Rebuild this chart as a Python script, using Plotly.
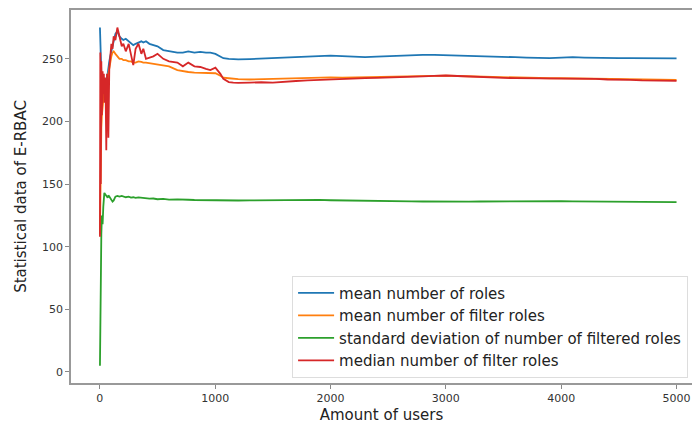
import plotly.graph_objects as go

users = [1, 4, 8, 13, 18, 24, 30, 35, 39, 45,
         50, 56, 62, 68, 74, 82, 90, 100, 110, 120,
         135, 152, 170, 190, 204, 225, 250, 270, 290, 310,
         335, 360, 377, 400, 430, 464, 500, 550, 600, 672,
         720, 767, 820, 871, 920, 958, 1002, 1045, 1071, 1118,
         1157, 1200, 1300, 1400, 1500, 1600, 1700, 1800, 1900, 2000,
         2100, 2200, 2300, 2400, 2500, 2600, 2700, 2800, 2900, 3000,
         3100, 3200, 3300, 3400, 3500, 3600, 3700, 3800, 3900, 4000,
         4100, 4200, 4300, 4400, 4500, 4600, 4700, 4800, 4900, 5000]

mean_roles = [275, 262, 248, 238, 232, 230, 228, 230, 226, 224,
              228, 226, 234, 240, 244, 248, 252, 256, 260, 264,
              270, 272, 268, 266, 265, 266, 264, 262, 261, 262,
              263, 264, 263, 264, 262, 261, 260, 257, 256, 255,
              255, 256, 255, 255.5, 255, 255, 254, 252, 250.5, 250,
              249.5, 249.5, 249.8, 250.2, 250.6, 250.5, 251.2, 251.8, 252.2, 252.6,
              252.2, 251.8, 251.4, 251.8, 252.2, 252.6, 252.8, 253.1, 253.2, 253.0,
              252.6, 252.2, 252.0, 251.7, 251.5, 251.3, 251.0, 250.7, 250.5, 250.9,
              251.3, 251.0, 250.7, 250.6, 250.5, 250.6, 250.5, 250.4, 250.4, 250.3]

mean_filter = [110, 140, 170, 195, 205, 212, 218, 222, 220, 218,
               222, 225, 230, 234, 238, 243, 248, 252, 255, 256,
               254, 252, 250, 250, 249, 249, 248, 248, 247, 247,
               248, 247.5, 247, 247, 246.5, 246, 245.5, 245, 244, 241,
               240, 239.5, 239, 239, 239, 239, 238.5, 236.5, 235, 234.5,
               234, 233.8, 233.5, 233.8, 234.2, 234.3, 234.5, 234.8, 235, 235.2,
               235, 235.2, 235.4, 235.5, 235.7, 236, 236.2, 236.3, 236.5, 236.6,
               236.3, 236, 235.7, 235.5, 235.2, 235, 234.8, 234.6, 234.5, 234.5,
               234.4, 234.2, 234, 233.9, 233.8, 233.6, 233.5, 233.4, 233.3, 233.2]

std_filtered = [5, 45, 80, 110, 125, 118, 132, 142, 143, 142,
                141, 141, 140, 139, 141, 140, 139, 137.5, 136, 137,
                140, 140.5, 140, 140.5, 140, 139.5, 140, 139.2, 139.5, 139,
                139.4, 139, 138.7, 138.9, 138.4, 138.5, 137.9, 138.2, 137.6, 137.8,
                137.4, 137.5, 137.3, 137.2, 137.4, 137, 137.1, 137, 136.9, 137,
                136.9, 136.9, 137, 137.1, 137.2, 137.4, 137.6, 137.6, 137.4, 137.1,
                136.9, 136.8, 136.6, 136.5, 136.4, 136.3, 136.2, 136.1, 136, 135.8,
                135.9, 136, 136.1, 136.2, 136.3, 136.4, 136.5, 136.5, 136.4, 136.3,
                136.2, 136.1, 136, 135.9, 135.8, 135.7, 135.7, 135.6, 135.6, 135.6]

median_filter = [108, 255, 150, 248, 205, 240, 222, 238, 215, 235,
                 225, 177, 238, 230, 187, 242, 250, 262, 258, 268,
                 265, 275, 268, 260, 262, 256, 262, 252, 245, 258,
                 262, 254, 258, 250, 251, 252, 254, 250, 248, 247,
                 244, 247, 244, 243.5, 242, 241, 243, 238, 234, 231.5,
                 231, 230.8, 231, 231.3, 231, 231.8, 232.3, 232.8, 233.2, 233.8,
                 234, 234.2, 234.6, 234.8, 235, 235.3, 235.8, 236, 236.4, 236.7,
                 236.3, 235.8, 235.5, 235.2, 234.8, 234.6, 234.5, 234.5, 234.4, 234.6,
                 234.3, 234, 234, 233.5, 233.5, 233.2, 232.8, 232.5, 232.3, 232.4]

series_names = ["mean number of roles", "mean number of filter roles",
                "standard deviation of number of filtered roles", "median number of filter roles"]
series_values = [mean_roles, mean_filter, std_filtered, median_filter]
colors = ["#1f77b4", "#ff7f0e", "#2ca02c", "#d62728"]

x_ticks = [0, 1000, 2000, 3000, 4000, 5000]
y_ticks = [0, 50, 100, 150, 200, 250]

fig = go.Figure()
for i, (name, vals, c) in enumerate(zip(series_names, series_values, colors)):
    fig.add_trace(go.Scatter(x=users, y=vals, mode="lines", name=name,
                             legendgroup=f"g{i}",
                             line=dict(color=c, width=1.8)))

axis_font = dict(family="DejaVu Sans", size=11, color="#333333")
fig.update_layout(
    width=692, height=428,
    margin=dict(l=71, r=0, t=10, b=45),
    paper_bgcolor="white", plot_bgcolor="white",
    font=dict(family="DejaVu Sans", color="#222222"),
    showlegend=True,
    legend=dict(x=0.356, y=0.288, xanchor="left", yanchor="top",
                bgcolor="white", bordercolor="#dddddd", borderwidth=1,
                font=dict(family="DejaVu Sans", size=15, color="#222222"),
                tracegroupgap=0, itemwidth=36),
    xaxis=dict(range=[-250, 5134], tickvals=x_ticks, ticks="outside", ticklen=4,
               tickcolor="#888888", showline=True, linecolor="#999999", linewidth=1.5,
               mirror=True, showgrid=False, zeroline=False, tickfont=axis_font,
               automargin=False,
               title=dict(text="Amount of users", standoff=6,
                          font=dict(family="DejaVu Sans", size=15, color="#222222"))),
    yaxis=dict(range=[-8.8, 289], tickvals=y_ticks, ticks="outside", ticklen=4,
               tickcolor="#888888", showline=True, linecolor="#999999", linewidth=1.5,
               mirror=False, showgrid=False, zeroline=False, tickfont=axis_font,
               automargin=False,
               title=dict(text="Statistical data of E-RBAC", standoff=12,
                          font=dict(family="DejaVu Sans", size=15, color="#222222"))),
)
fig.write_html("out.html", config={"displayModeBar": False},
               post_script="document.body.style.margin='0';document.body.style.padding='0';")
